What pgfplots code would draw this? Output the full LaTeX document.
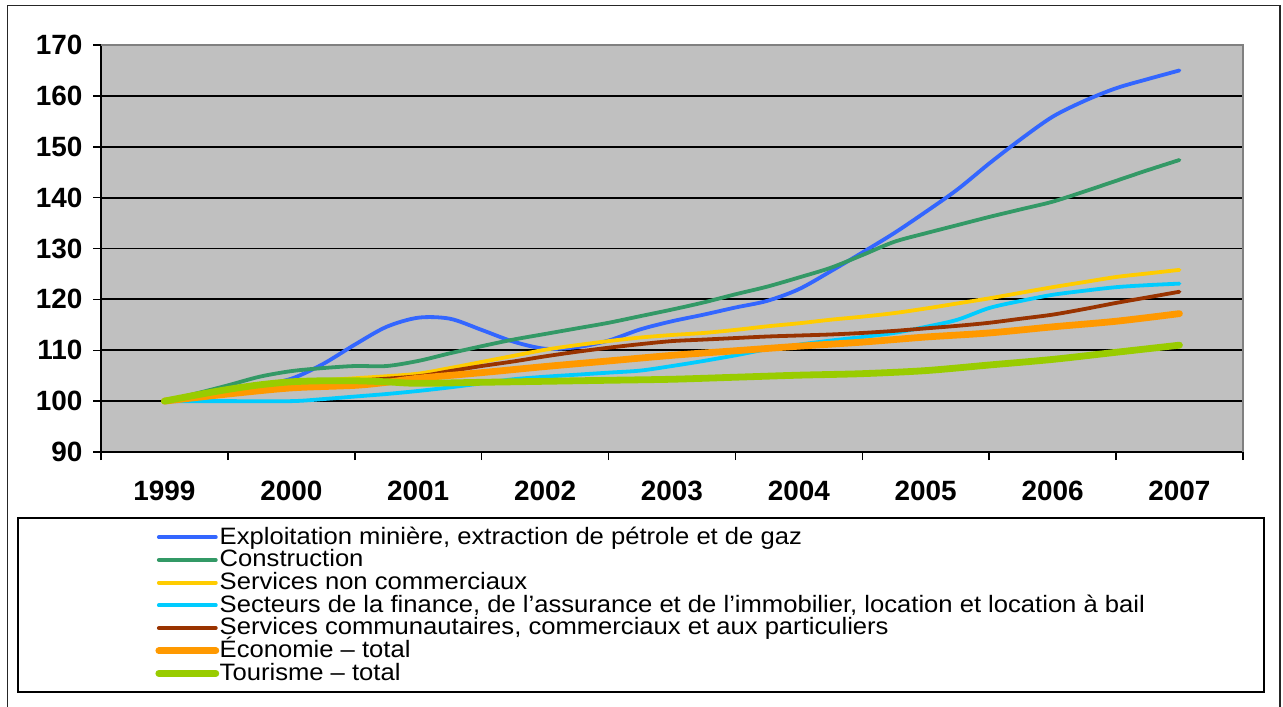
\documentclass[border=0pt]{standalone}
\usepackage{fontspec}
\setmainfont{Liberation Sans}
\newfontfamily\legfont[FakeStretch=1.08]{Liberation Sans}
\usepackage{pgfplots}
\pgfplotsset{compat=1.18}
\definecolor{cBlue}{HTML}{3366FF}
\definecolor{cGreen}{HTML}{339966}
\definecolor{cYellow}{HTML}{FFCC00}
\definecolor{cCyan}{HTML}{00CCFF}
\definecolor{cBrown}{HTML}{993300}
\definecolor{cOrange}{HTML}{FF9900}
\definecolor{cLime}{HTML}{99CC00}
\definecolor{bgGray}{HTML}{C0C0C0}
\begin{document}
\begin{tikzpicture}
\path[use as bounding box] (0,0) rectangle (1283bp,-707bp);
\fill[white] (0,0) rectangle (1283bp,-707bp);
\draw[line width=1.2bp, black!85] (7.5bp,-5.5bp) rectangle (1280bp,-730bp);
\draw[line width=1.6bp, black] (18bp,-518bp) rectangle (1264bp,-692bp);
\begin{axis}[
  at={(101bp,-452bp)}, anchor=south west,
  scale only axis, width=1142bp, height=407bp,
  xmin=-0.5, xmax=8.5, ymin=90, ymax=170,
  axis background/.style={fill=bgGray},
  axis line style={draw=none},
  xtick={0,...,8},
  xticklabels={1999,2000,2001,2002,2003,2004,2005,2006,2007},
  minor xtick={-0.5,0.5,...,8.5},
  major x tick style={draw=none},
  minor x tick style={black, line width=1.5bp},
  ytick={90,100,...,170},
  y tick style={black, line width=1.5bp},
  xtick pos=bottom, ytick pos=left,
  tick align=outside,
  major tick length=8bp, minor tick length=8bp,
  ymajorgrids, major grid style={black, line width=1.8bp},
  /pgf/number format/assume math mode=true,
  tick label style={font=\fontsize{28}{28}\selectfont\bfseries},
  yticklabel style={xshift=-7bp},
  xticklabel style={yshift=-17bp},
  legend style={at={(0.0475,-0.184)}, anchor=north west, draw=none, fill=none,
    inner sep=0pt, row sep=0pt, font=\legfont\fontsize{23.8}{23.8}\selectfont,
    nodes={inner sep=0pt, text height=17bp, text depth=5.7bp},
    /tikz/every odd column/.append style={column sep=0.5bp}},
  legend cell align=left,
  legend image code/.code={\draw[#1] (0bp,1.2bp) -- (57bp,1.2bp);},
  every axis plot/.append style={line cap=round, line join=round, smooth, tension=0.5},
  clip=false,
]
\addplot[cBlue, line width=3.8bp] coordinates {(0,100)(0.25,101.0)(0.5,102.0)(0.75,103.1)(1,104.4)(1.25,107.3)(1.5,111.1)(1.75,114.6)(2,116.4)(2.25,116.2)(2.5,114.0)(2.75,111.7)(3,110.3)(3.25,110.6)(3.5,111.9)(3.75,114.1)(4,115.7)(4.25,117.0)(4.5,118.4)(4.75,119.7)(5,122.0)(5.25,125.5)(5.5,129.2)(5.75,133.0)(6,137.2)(6.25,141.6)(6.5,146.7)(6.75,151.5)(7,155.9)(7.25,159.0)(7.5,161.5)(7.75,163.3)(8,165.0)};
\addlegendentry{Exploitation minière, extraction de pétrole et de gaz}
\addplot[cGreen, line width=3.8bp] coordinates {(0,100)(0.25,101.5)(0.5,103.1)(0.75,104.8)(1,105.9)(1.25,106.5)(1.5,106.9)(1.75,106.9)(2,107.9)(2.25,109.4)(2.5,110.8)(2.75,112.1)(3,113.2)(3.25,114.3)(3.5,115.4)(3.75,116.7)(4,118.0)(4.25,119.4)(4.5,121.0)(4.75,122.5)(5,124.3)(5.25,126.2)(5.5,128.7)(5.75,131.3)(6,133.0)(6.25,134.6)(6.5,136.2)(6.75,137.7)(7,139.2)(7.25,141.2)(7.5,143.3)(7.75,145.4)(8,147.4)};
\addlegendentry{Construction}
\addplot[cYellow, line width=3.8bp] coordinates {(0,100)(0.25,101.0)(0.5,102.0)(0.75,103.0)(1,103.7)(1.25,104.1)(1.5,104.5)(1.75,104.9)(2,105.4)(2.25,106.5)(2.5,107.7)(2.75,108.9)(3,110.1)(3.25,111.0)(3.5,111.8)(3.75,112.5)(4,113.0)(4.25,113.4)(4.5,114.0)(4.75,114.7)(5,115.3)(5.25,116.0)(5.5,116.6)(5.75,117.3)(6,118.2)(6.25,119.2)(6.5,120.2)(6.75,121.3)(7,122.4)(7.25,123.4)(7.5,124.4)(7.75,125.1)(8,125.8)};
\addlegendentry{Services non commerciaux}
\addplot[cCyan, line width=3.8bp] coordinates {(0,100)(0.5,100)(1,100)(1.25,100.4)(1.5,100.9)(1.75,101.4)(2,102.0)(2.25,102.7)(2.5,103.5)(2.75,104.3)(3,104.8)(3.25,105.2)(3.5,105.6)(3.75,106.0)(4,106.9)(4.25,107.9)(4.5,109.0)(4.75,110.2)(5,111.1)(5.25,111.9)(5.5,112.6)(5.75,113.4)(6,114.6)(6.25,116.0)(6.5,118.3)(6.75,119.7)(7,120.9)(7.25,121.7)(7.5,122.4)(7.75,122.8)(8,123.1)};
\addlegendentry{Secteurs de la finance, de l’assurance et de l’immobilier, location et location à bail}
\addplot[cBrown, line width=3.8bp] coordinates {(0,100)(0.5,101.8)(1,103.3)(1.5,104.0)(2,104.9)(2.25,105.9)(2.5,106.9)(2.75,107.8)(3,108.8)(3.25,109.7)(3.5,110.5)(3.75,111.2)(4,111.8)(4.25,112.1)(4.5,112.4)(4.75,112.7)(5,112.9)(5.25,113.1)(5.5,113.4)(5.75,113.8)(6,114.3)(6.25,114.8)(6.5,115.4)(6.75,116.2)(7,117.0)(7.25,118.1)(7.5,119.3)(7.75,120.4)(8,121.5)};
\addlegendentry{Services communautaires, commerciaux et aux particuliers}
\addplot[cOrange, line width=6.8bp] coordinates {(0,100)(0.5,101.4)(1,102.6)(1.5,103.1)(1.75,103.7)(2,104.5)(2.5,105.6)(3,106.8)(3.5,107.9)(4,109.0)(4.5,109.9)(5,110.8)(5.5,111.6)(6,112.6)(6.5,113.4)(7,114.6)(7.5,115.7)(8,117.2)};
\addlegendentry{Économie – total}
\addplot[cLime, line width=6.8bp] coordinates {(0,100)(0.25,101.2)(0.5,102.3)(0.75,103.2)(1,103.8)(1.25,104.0)(1.5,104.0)(1.75,103.8)(2,103.5)(2.5,103.7)(3,103.9)(3.5,104.1)(4,104.3)(4.5,104.7)(5,105.1)(5.5,105.4)(6,106.0)(6.5,107.1)(7,108.2)(7.5,109.6)(8,111.0)};
\addlegendentry{Tourisme – total}
\end{axis}
\draw[line width=1.5bp, black] (101bp,-45bp) -- (101bp,-452bp) -- (1243bp,-452bp);
\draw[line width=1.5bp, black!50] (101bp,-45bp) -- (1243bp,-45bp) -- (1243bp,-452bp);
\end{tikzpicture}
\end{document}
